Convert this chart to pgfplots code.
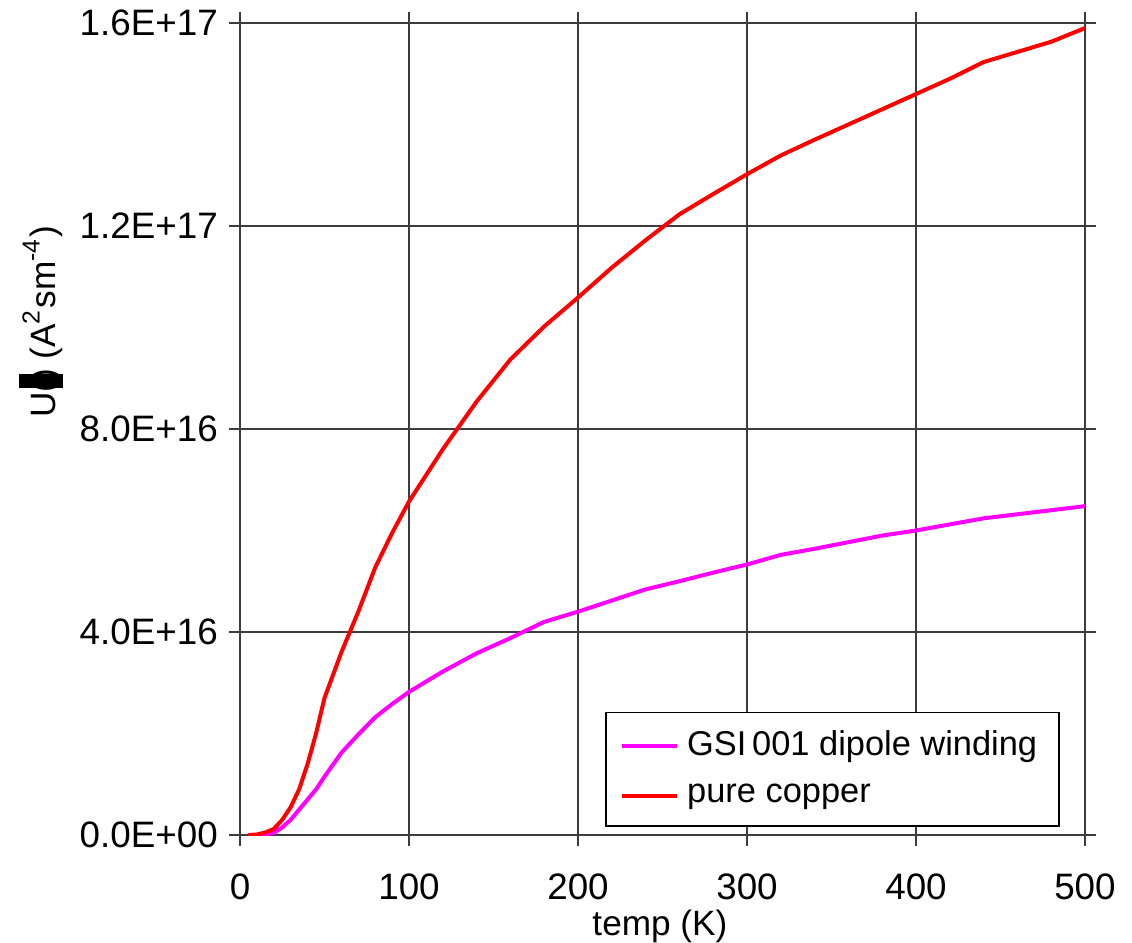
\documentclass[border=0pt]{standalone}
\usepackage{fontspec}
\setmainfont{Liberation Sans}
\usepackage{pgfplots}
\pgfplotsset{compat=1.18}
\definecolor{gridc}{RGB}{60,60,60}
\begin{document}
\begin{tikzpicture}
\begin{axis}[
  scale only axis,
  width=211.25pt, height=203pt,
  xmin=0, xmax=500, ymin=0, ymax=1.6e17,
  xtick={0,100,200,300,400,500},
  ytick={0,4e16,8e16,1.2e17,1.6e17},
  yticklabels={0.0E+00,4.0E+16,8.0E+16,1.2E+17,1.6E+17},
  scaled y ticks=false,
  /pgf/number format/assume math mode=true,
  tick label style={font=\fontsize{9.2}{11}\selectfont},
  label style={font=\fontsize{8.8}{11}\selectfont},
  tick align=outside,
  major tick length=2.75pt,
  tick style={gridc, line width=0.4pt},
  grid=major,
  major grid style={gridc, line width=0.4pt},
  axis line style={gridc, line width=0.5pt},
  xticklabel style={yshift=-3.5pt},
  yticklabel style={xshift=0.75pt},
  xlabel={temp (K)},
  ylabel={U(\makebox[0pt]{\rule[-2pt]{3.5pt}{11pt}}) (A\textsuperscript{2}sm\textsuperscript{-4})},
  xlabel style={at={(axis description cs:0.497,-0.113)},anchor=center},
  ylabel style={at={(axis description cs:-0.2355,0.632)},anchor=center},
  legend style={at={(axis description cs:0.9704,0.0099)}, anchor=south east,
    draw=black, line width=0.4pt, fill=white,
    font=\fontsize{8.6}{11}\selectfont, legend cell align=left,
    inner xsep=3.5pt, inner ysep=2.5pt, row sep=1.6pt},
  legend image code/.code={\draw[#1, line width=1pt] (2.5pt,0pt) -- (16.25pt,0pt);},
]
\addplot[color={rgb,255:red,255;green,0;blue,255}, line width=1pt] coordinates {
(5,0) (10,0) (15,0.1e15) (20,0.4e15) (25,1.5e15) (30,3e15) (35,5e15) (40,7e15)
(45,9e15) (50,11.5e15) (60,16.2e15) (70,19.8e15) (80,23.2e15) (90,25.8e15)
(100,28.2e15) (120,32.2e15) (140,35.8e15) (160,38.8e15) (180,42e15) (200,44e15)
(220,46.2e15) (240,48.4e15) (260,50e15) (280,51.7e15) (300,53.3e15) (320,55.2e15)
(340,56.4e15) (360,57.7e15) (380,59e15) (400,60e15) (420,61.2e15) (440,62.4e15)
(460,63.2e15) (480,64e15) (500,64.8e15)
};
\addlegendentry{GSI\,001 dipole winding}
\addplot[color={rgb,255:red,255;green,0;blue,0}, line width=1pt] coordinates {
(5,0) (10,0.1e15) (15,0.5e15) (20,1.2e15) (25,3e15) (30,5.5e15) (35,9e15)
(40,14e15) (45,20e15) (50,27e15) (60,36e15) (70,44e15) (80,52.7e15) (90,59.5e15)
(100,65.7e15) (120,76e15) (140,85.4e15) (160,93.7e15) (180,100.2e15) (200,105.9e15)
(220,111.8e15) (240,117.2e15) (260,122.3e15) (280,126.3e15) (300,130.2e15)
(320,133.9e15) (340,137e15) (360,140e15) (380,143e15) (400,146e15) (420,149e15)
(440,152.3e15) (460,154.3e15) (480,156.3e15) (500,159e15)
};
\addlegendentry{pure copper}
\end{axis}
\pgfresetboundingbox
\path ([shift={(-60pt,-26.75pt)}]current axis.south west) rectangle ([shift={(11.75pt,5.75pt)}]current axis.north east);
\end{tikzpicture}
\end{document}
